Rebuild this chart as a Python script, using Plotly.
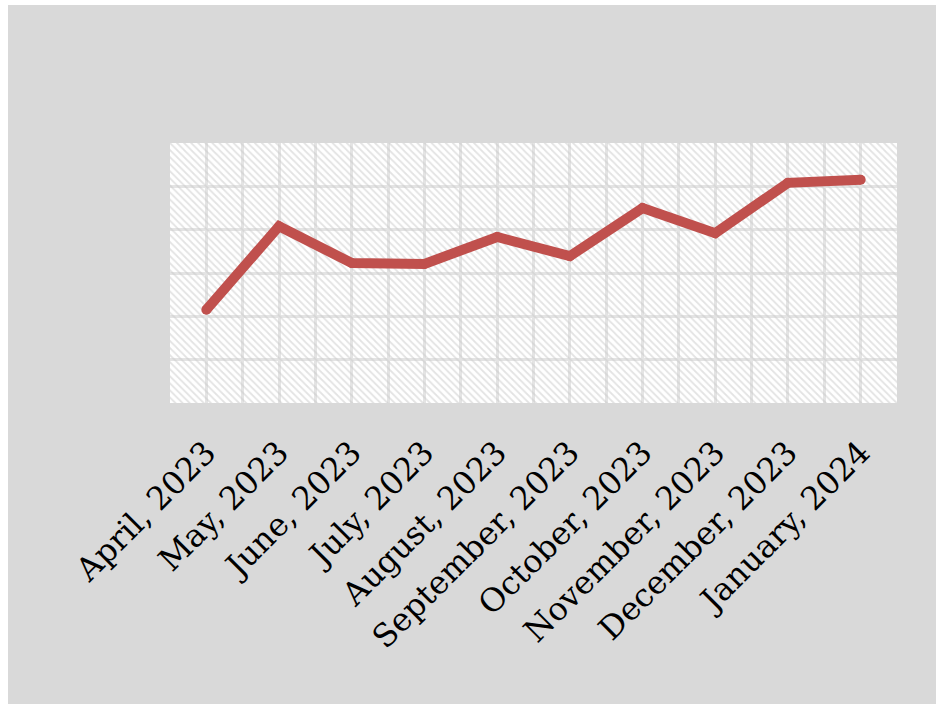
import plotly.graph_objects as go

months = ["April, 2023", "May, 2023", "June, 2023", "July, 2023", "August, 2023",
          "September, 2023", "October, 2023", "November, 2023", "December, 2023", "January, 2024"]
values = [21.5, 40.8, 32.3, 32.1, 38.3, 33.9, 45.0, 39.2, 50.8, 51.5]
y_range = [0, 60]

xs = list(range(len(months)))
x_lo, x_hi = -0.5, len(months) - 0.5

W, H = 936, 704
ml, mr, mt, mb = 170, 39, 143, 301
pw, ph = W - ml - mr, H - mt - mb

fig = go.Figure()
# hatched plot background
fig.add_trace(go.Scatter(
    x=[x_lo, x_hi, x_hi, x_lo, x_lo], y=[y_range[0], y_range[0], y_range[1], y_range[1], y_range[0]],
    mode="lines", line=dict(width=0), fill="toself", fillcolor="rgba(0,0,0,0)",
    fillpattern=dict(shape="\\", fgcolor="#c8c8c8", bgcolor="rgba(0,0,0,0)", size=5, solidity=0.35),
    hoverinfo="skip", showlegend=False))
fig.add_trace(go.Scatter(
    x=xs, y=values, mode="lines+markers",
    line=dict(color="#c0504d", width=10),
    marker=dict(color="#c0504d", size=10),
    showlegend=False))

# white page offset strips
def px_x(p):
    return (p - ml) / pw

def px_y(p):
    return (H - mb - p) / ph

fig.add_shape(type="rect", xref="paper", yref="paper", x0=px_x(0), x1=px_x(8), y0=px_y(H), y1=px_y(0),
              fillcolor="white", line=dict(width=0), layer="above")
fig.add_shape(type="rect", xref="paper", yref="paper", x0=px_x(0), x1=px_x(W), y0=px_y(5), y1=px_y(0),
              fillcolor="white", line=dict(width=0), layer="above")

fig.update_layout(
    width=W, height=H,
    margin=dict(l=ml, r=mr, t=mt, b=mb),
    paper_bgcolor="#d9d9d9", plot_bgcolor="white",
    font=dict(family="DejaVu Serif", color="black"),
    xaxis=dict(range=[x_lo, x_hi], tickvals=xs, ticktext=months, tickangle=-45,
               tickfont=dict(size=32, family="DejaVu Serif", color="black"),
               showgrid=True, gridcolor="#e4e4e4", gridwidth=3, zeroline=False,
               showline=False, ticks="outside", ticklen=17, tickcolor="rgba(0,0,0,0)",
               minor=dict(dtick=1, tick0=0.5, showgrid=True, gridcolor="#e4e4e4", gridwidth=3)),
    yaxis=dict(range=y_range, dtick=10, showticklabels=False, showgrid=True,
               gridcolor="#e4e4e4", gridwidth=3, zeroline=False, showline=False, ticks=""),
)

fig.write_html("out.html")
